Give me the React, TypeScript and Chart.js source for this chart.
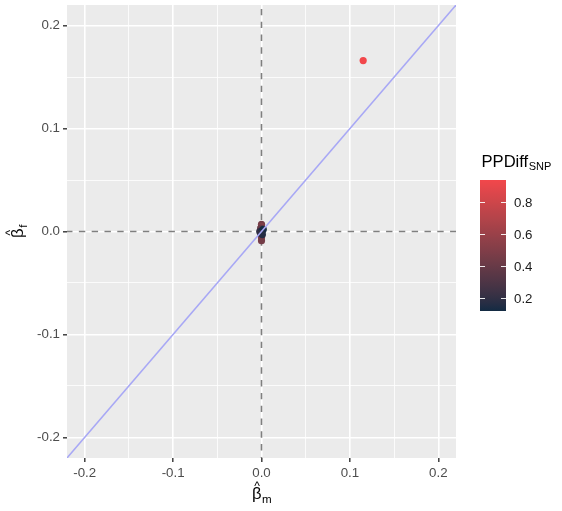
import { useEffect, useRef } from "react"
import { Chart, registerables } from "chart.js"

Chart.register(...registerables)

// estimated effects: male beta, female beta and the PPDiff colour value
const betaM = [0.0, 0.0, -0.001, 0.001, 0.0, 0.0, 0.0, -0.002, 0.001, 0.002, 0.0, -0.001, 0.001, 0.115]
const betaF = [0.007, 0.005, 0.003, 0.002, -0.004, -0.006, -0.009, 0.0, 0.001, 0.002, -0.001, -0.002, -0.003, 0.166]
const ppDiff = [0.45, 0.5, 0.4, 0.35, 0.45, 0.5, 0.45, 0.2, 0.15, 0.13, 0.12, 0.2, 0.16, 0.94]

// axis ticks (0.05 steps give the minor grid)
const gridTicks = [-0.2, -0.15, -0.1, -0.05, 0, 0.05, 0.1, 0.15, 0.2]
const legendTicks = [0.2, 0.4, 0.6, 0.8]

// reference lines: y = x, x = 0, y = 0
const refSpan = [-0.25, 0.25]
const zeroLine = [0, 0]

const lowColor = "#132B43"
const highColor = "#F2474B"
const FONT = "'Liberation Sans', Arial, sans-serif"

const isMajor = (v: number) => Math.abs(v * 10 - Math.round(v * 10)) < 1e-9

// --- Lab interpolation like scales::seq_gradient_pal
function toLinear(c: number) {
  c /= 255
  return c <= 0.04045 ? c / 12.92 : Math.pow((c + 0.055) / 1.055, 2.4)
}
function fromLinear(c: number) {
  const v = c <= 0.0031308 ? 12.92 * c : 1.055 * Math.pow(c, 1 / 2.4) - 0.055
  return Math.max(0, Math.min(255, Math.round(v * 255)))
}
function hexToLab(hex: string) {
  const r = toLinear(parseInt(hex.slice(1, 3), 16))
  const g = toLinear(parseInt(hex.slice(3, 5), 16))
  const b = toLinear(parseInt(hex.slice(5, 7), 16))
  const x = (0.4124 * r + 0.3576 * g + 0.1805 * b) / 0.95047
  const y = 0.2126 * r + 0.7152 * g + 0.0722 * b
  const z = (0.0193 * r + 0.1192 * g + 0.9505 * b) / 1.08883
  const f = (t: number) => (t > 0.008856 ? Math.cbrt(t) : 7.787 * t + 16 / 116)
  return [116 * f(y) - 16, 500 * (f(x) - f(y)), 200 * (f(y) - f(z))]
}
function labToRgb(L: number, a: number, bb: number) {
  const fy = (L + 16) / 116
  const fx = fy + a / 500
  const fz = fy - bb / 200
  const inv = (t: number) => (t * t * t > 0.008856 ? t * t * t : (t - 16 / 116) / 7.787)
  const x = inv(fx) * 0.95047
  const y = inv(fy)
  const z = inv(fz) * 1.08883
  const r = 3.2406 * x - 1.5372 * y - 0.4986 * z
  const g = -0.9689 * x + 1.8758 * y + 0.0415 * z
  const b = 0.0557 * x - 0.204 * y + 1.057 * z
  return `rgb(${fromLinear(r)}, ${fromLinear(g)}, ${fromLinear(b)})`
}
const labLow = hexToLab(lowColor)
const labHigh = hexToLab(highColor)
const vMin = Math.min(...ppDiff)
const vMax = Math.max(...ppDiff)
function colorFor(v: number) {
  const t = Math.max(0, Math.min(1, (v - vMin) / (vMax - vMin)))
  return labToRgb(
    labLow[0] + (labHigh[0] - labLow[0]) * t,
    labLow[1] + (labHigh[1] - labLow[1]) * t,
    labLow[2] + (labHigh[2] - labLow[2]) * t
  )
}

// draws a symbol with hat and subscript, centred at (0,0) text frame
function drawHatSub(ctx: CanvasRenderingContext2D, sub: string, baseline: number) {
  ctx.font = `16.6px ${FONT}`
  const wb = ctx.measureText("β").width
  ctx.font = `11.6px ${FONT}`
  const ws = ctx.measureText(sub).width
  const start = -(wb + ws) / 2
  ctx.textBaseline = "alphabetic"
  ctx.textAlign = "left"
  ctx.font = `16.6px ${FONT}`
  ctx.fillText("β", start, baseline)
  ctx.font = `12px ${FONT}`
  ctx.textAlign = "center"
  ctx.fillText("^", start + wb / 2 + 0.5, baseline - 9)
  ctx.textAlign = "left"
  ctx.font = `11.6px ${FONT}`
  ctx.fillText(sub, start + wb + 0.5, baseline + 3.5)
}

const decorPlugin = {
  id: "decor",
  beforeDraw(chart: Chart) {
    const { ctx, chartArea } = chart
    ctx.save()
    ctx.fillStyle = "#EBEBEB"
    ctx.fillRect(chartArea.left, chartArea.top, chartArea.right - chartArea.left, chartArea.bottom - chartArea.top)
    ctx.restore()
  },
  afterDraw(chart: Chart) {
    const { ctx, chartArea } = chart
    ctx.save()
    ctx.fillStyle = "#000000"
    // x title
    ctx.save()
    ctx.translate((chartArea.left + chartArea.right) / 2, 0)
    drawHatSub(ctx, "m", 499)
    ctx.restore()
    // y title
    ctx.save()
    ctx.translate(0, (chartArea.top + chartArea.bottom) / 2)
    ctx.rotate(-Math.PI / 2)
    drawHatSub(ctx, "f", 23)
    ctx.restore()

    // colour bar legend
    const barL = 480
    const barR = 506
    const barT = 180
    const barB = 311
    ctx.font = `16.6px ${FONT}`
    ctx.textAlign = "left"
    ctx.textBaseline = "alphabetic"
    ctx.fillText("PPDiff", 481.5, 166.5)
    const wt = ctx.measureText("PPDiff").width
    ctx.font = `11px ${FONT}`
    ctx.fillText("SNP", 481.5 + wt + 0.5, 170)

    const grad = ctx.createLinearGradient(0, barB, 0, barT)
    for (let i = 0; i <= 20; i++) {
      grad.addColorStop(i / 20, colorFor(vMin + ((vMax - vMin) * i) / 20))
    }
    ctx.fillStyle = grad
    ctx.fillRect(barL, barT, barR - barL, barB - barT)

    ctx.strokeStyle = "rgba(255,255,255,0.9)"
    ctx.lineWidth = 1
    ctx.font = `13.3px ${FONT}`
    ctx.fillStyle = "#1A1A1A"
    ctx.textBaseline = "middle"
    legendTicks.forEach((v) => {
      const y = barB - ((v - vMin) / (vMax - vMin)) * (barB - barT)
      const yy = Math.round(y) + 0.5
      ctx.beginPath()
      ctx.moveTo(barL, yy)
      ctx.lineTo(barL + 5, yy)
      ctx.moveTo(barR - 5, yy)
      ctx.lineTo(barR, yy)
      ctx.stroke()
      ctx.fillText(v.toFixed(1), 514, y + 1)
    })
    ctx.restore()
  },
}

function axisOptions(position: "bottom" | "left") {
  return {
    type: "linear" as const,
    position,
    min: -0.22,
    max: 0.22,
    afterBuildTicks: (scale: any) => {
      scale.ticks = gridTicks.map((v) => ({ value: v }))
    },
    afterFit: (scale: any) => {
      if (position === "left") scale.width = 67
      else scale.height = 53
      scale.paddingTop = 0
      scale.paddingBottom = 0
      scale.paddingLeft = 0
      scale.paddingRight = 0
    },
    border: { display: false },
    grid: {
      color: "#FFFFFF",
      lineWidth: (c: any) => (isMajor(c.tick.value) ? 1.6 : 0.8),
      tickColor: (c: any) => (isMajor(c.tick.value) ? "#333333" : "rgba(0,0,0,0)"),
      tickWidth: 1.4,
      tickLength: 4,
    },
    ticks: {
      autoSkip: false,
      maxRotation: 0,
      padding: 3,
      color: "#4D4D4D",
      font: { family: FONT, size: 13.3 },
      callback: (v: any) => (isMajor(Number(v)) ? Number(v).toFixed(1) : ""),
    },
  }
}

export default function App() {
  const canvasRef = useRef<HTMLCanvasElement>(null)
  const chartRef = useRef<Chart | null>(null)

  useEffect(() => {
    if (!canvasRef.current) return
    if (chartRef.current) chartRef.current.destroy()

    chartRef.current = new Chart(canvasRef.current, {
      type: "scatter",
      data: {
        datasets: [
          {
            // y = x reference line, on top
            type: "line",
            data: refSpan.map((v) => ({ x: v, y: v })),
            borderColor: "#A8A8F5",
            borderWidth: 1.5,
            pointRadius: 0,
            order: 0,
          },
          {
            data: betaM.map((x, i) => ({ x, y: betaF[i] })),
            pointBackgroundColor: ppDiff.map(colorFor),
            pointBorderWidth: 0,
            pointRadius: 3.6,
            order: 1,
          },
          {
            type: "line",
            data: refSpan.map((v, i) => ({ x: v, y: zeroLine[i] })),
            borderColor: "#7F7F7F",
            borderWidth: 1.6,
            borderDash: [6.4, 6.4],
            pointRadius: 0,
            order: 2,
          },
          {
            type: "line",
            data: refSpan.map((v, i) => ({ x: zeroLine[i], y: v })),
            borderColor: "#7F7F7F",
            borderWidth: 1.6,
            borderDash: [6.4, 6.4],
            pointRadius: 0,
            order: 2,
          },
        ] as any,
      },
      options: {
        animation: false,
        responsive: true,
        maintainAspectRatio: false,
        events: [],
        layout: { padding: { top: 5, right: 106, left: 0, bottom: 0 } },
        plugins: {
          legend: { display: false },
          tooltip: { enabled: false },
        },
        scales: {
          x: axisOptions("bottom"),
          y: axisOptions("left"),
        },
      },
      plugins: [decorPlugin],
    })

    return () => {
      if (chartRef.current) {
        chartRef.current.destroy()
        chartRef.current = null
      }
    }
  }, [])

  return (
    <div style={{ position: "absolute", left: 0, top: 0, width: 562, height: 511, background: "#FFFFFF" }}>
      <canvas ref={canvasRef} aria-label="Male vs female effect scatter"></canvas>
    </div>
  )
}
